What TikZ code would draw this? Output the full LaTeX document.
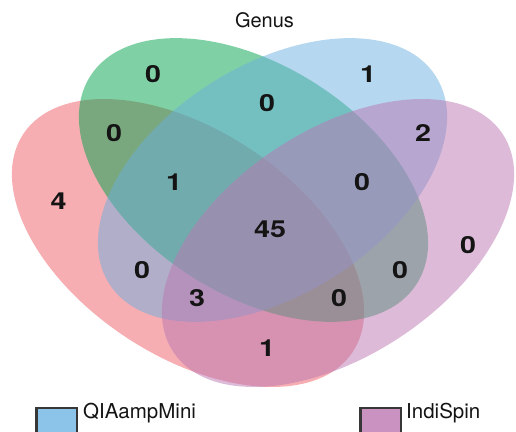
\documentclass[tikz,border=0pt]{standalone}
\usepackage{fontspec}
\setmainfont{TeX Gyre Heros}
\newfontfamily\countfont{TeX Gyre Heros}

% set colours (drawn at half opacity)
\definecolor{setA}{RGB}{237,93,103}
\definecolor{setB}{RGB}{0,163,75}
\definecolor{setC}{RGB}{107,175,223}
\definecolor{setD}{RGB}{187,119,177}
% legend swatches
\definecolor{keyC}{RGB}{140,195,232}
\definecolor{keyD}{RGB}{201,146,193}
\definecolor{keyedge}{RGB}{55,55,55}
\definecolor{inktext}{RGB}{20,20,20}

\begin{document}
\begin{tikzpicture}[x=1pt,y=1pt,
  region/.style={fill opacity=0.5, draw=none},
  count/.style={font=\fontsize{23.5}{28}\countfont\bfseries, text=inktext, inner sep=0pt},
  heading/.style={font=\fontsize{20}{24}\selectfont, text=inktext, inner sep=0pt},
  keytext/.style={font=\fontsize{20.5}{24}\selectfont, text=inktext, inner sep=0pt, anchor=base west},
  swatch/.style={draw=keyedge, line width=2.6pt}
]
\useasboundingbox (0,0) rectangle (516,431);
\begin{scope}
\clip (0,0) rectangle (516,431);

% four rotated ellipses, drawn in order A, B, C, D
\fill[region, fill=setA, shift={(188,188)}, rotate=-33.5]
  (0,0) ellipse [x radius=197.5pt, y radius=112.8pt];
\fill[region, fill=setB, shift={(253.5,251)}, rotate=-32.4]
  (0,0) ellipse [x radius=193.5pt, y radius=114.7pt];
\fill[region, fill=setC, shift={(272.5,251)}, rotate=32.4]
  (0,0) ellipse [x radius=193.5pt, y radius=114.7pt];
\fill[region, fill=setD, shift={(338,188)}, rotate=33.5]
  (0,0) ellipse [x radius=197.5pt, y radius=112.8pt];

% legend swatches (cut by the lower edge)
\fill[keyC, swatch] (36.5,23) rectangle (77,-10);
\fill[keyD, swatch] (360.5,23) rectangle (401,-10);
\end{scope}

% title
\node[heading] (title) at (264.5,410.7) {Genus};

% region counts
\node[count] (nB)    at (153,357) {\scalebox{1.22}[1]{0}};
\node[count] (nC)    at (368,357) {\scalebox{1.22}[1]{1}};
\node[count] (nBC)   at (267,328) {\scalebox{1.22}[1]{0}};
\node[count] (nAB)   at (114,298) {\scalebox{1.22}[1]{0}};
\node[count] (nCD)   at (423,298) {\scalebox{1.22}[1]{2}};
\node[count] (nA)    at (58.5,229.5) {\scalebox{1.22}[1]{4}};
\node[count] (nABC)  at (174,249) {\scalebox{1.22}[1]{1}};
\node[count] (nBCD)  at (362,249) {\scalebox{1.22}[1]{0}};
\node[count] (nABCD) at (270,201.5) {\scalebox{1.22}[1]{45}};
\node[count] (nD)    at (468,186) {\scalebox{1.22}[1]{0}};
\node[count] (nAC)   at (142,161) {\scalebox{1.22}[1]{0}};
\node[count] (nBD)   at (400,161) {\scalebox{1.22}[1]{0}};
\node[count] (nACD)  at (197,133) {\scalebox{1.22}[1]{3}};
\node[count] (nABD)  at (339,133) {\scalebox{1.22}[1]{0}};
\node[count] (nAD)   at (267,83)  {\scalebox{1.22}[1]{1}};

% legend labels
\node[keytext] (keyCtext) at (83,13) {QIAampMini};
\node[keytext] (keyDtext) at (406,13) {IndiSpin};
\end{tikzpicture}
\end{document}
